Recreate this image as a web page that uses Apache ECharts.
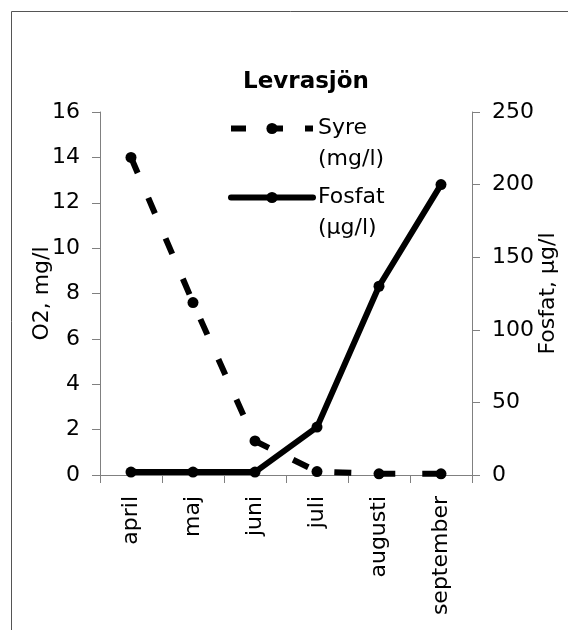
<!DOCTYPE html>
<html>
<head>
<meta charset="utf-8">
<script src="https://cdn.jsdelivr.net/npm/echarts@6/dist/echarts.min.js"></script>
<style>
  html, body { margin: 0; padding: 0; background: #fff; }
  #chart { width: 568px; height: 630px; }
</style>
</head>
<body>
<div id="chart"></div>
<script>
// Levrasjön: oxygen (left axis) vs phosphate (right axis) per month
const months = ["april", "maj", "juni", "juli", "augusti", "september"];
const syre = [14, 7.6, 1.5, 0.15, 0.05, 0.05];      // mg/l
const fosfat = [2, 2, 2, 33, 130, 200];              // µg/l
const SYRE = "Syre (mg/l)";
const FOSFAT = "Fosfat (µg/l)";

// the reference's text runs wide, DejaVu Sans gets closest
const FONT = "DejaVu Sans, Verdana, sans-serif";
const FS = 22;
const AXIS_GRAY = "#808080";

const chart = echarts.init(document.getElementById("chart"));

// legend text: blank first line so the symbol lines up with the name's first row
const legendText = n => "\n" + n.replace(" ", "\n");
const legendBase = {
  left: 228, padding: 0, itemWidth: 82, itemHeight: 14, selectedMode: false,
  formatter: legendText,
  textStyle: { fontFamily: FONT, fontSize: FS, color: "#000", lineHeight: 31 },
};

// axis names sit on top of the tick labels in the original, so no overlap nudging
const valueAxis = {
  type: "value",
  nameLocation: "middle",
  nameMoveOverlap: false,
  nameTextStyle: { fontSize: FS, color: "#000", fontFamily: FONT },
  axisLine: { show: true, lineStyle: { color: AXIS_GRAY } },
  axisTick: { show: true, length: 8, lineStyle: { color: AXIS_GRAY } },
  axisLabel: { margin: 20, fontSize: FS, color: "#000", fontFamily: FONT },
  splitLine: { show: false },
};

chart.setOption({
  animation: false,
  backgroundColor: "#fff",
  textStyle: { fontFamily: FONT },
  title: {
    text: "Levrasjön", left: 306, top: 71, padding: 0, textAlign: "center",
    textStyle: { fontFamily: FONT, fontSize: 23, fontWeight: "bold", color: "#000" },
  },
  legend: [
    { ...legendBase, top: 82, data: [SYRE], lineStyle: { width: 6, type: [15, 22] } },
    { ...legendBase, top: 151, data: [FOSFAT], lineStyle: { width: 6 } },
  ],
  grid: { left: 100, right: 96, top: 112, bottom: 155, outerBoundsMode: "none" },
  xAxis: {
    type: "category",
    data: months,
    boundaryGap: true,
    axisLine: { lineStyle: { color: AXIS_GRAY, width: 1 } },
    axisTick: { show: true, length: 8, lineStyle: { color: AXIS_GRAY } },
    axisLabel: { rotate: 90, interval: 0, margin: 21, fontSize: FS, color: "#000", fontFamily: FONT },
  },
  yAxis: [
    { ...valueAxis, min: 0, max: 16, interval: 2, name: "O2, mg/l", nameGap: 47 },
    { ...valueAxis, min: 0, max: 250, interval: 50, name: "Fosfat, µg/l", nameGap: 65 },
  ],
  series: [
    {
      name: SYRE, type: "line", yAxisIndex: 0, data: syre,
      symbol: "circle", symbolSize: 11, showAllSymbol: true,
      itemStyle: { color: "#000" },
      lineStyle: { color: "#000", width: 6, type: [17, 27], cap: "butt" },
    },
    {
      name: FOSFAT, type: "line", yAxisIndex: 1, data: fosfat,
      symbol: "circle", symbolSize: 11, showAllSymbol: true,
      itemStyle: { color: "#000" },
      lineStyle: { color: "#000", width: 6, join: "round", cap: "round" },
    },
  ],
  graphic: [{
    type: "rect", silent: true, z: -1,
    shape: { x: 11.5, y: 11.5, width: 700, height: 700 },
    style: { fill: "none", stroke: "#555", lineWidth: 1 },
  }],
});
</script>
</body>
</html>
